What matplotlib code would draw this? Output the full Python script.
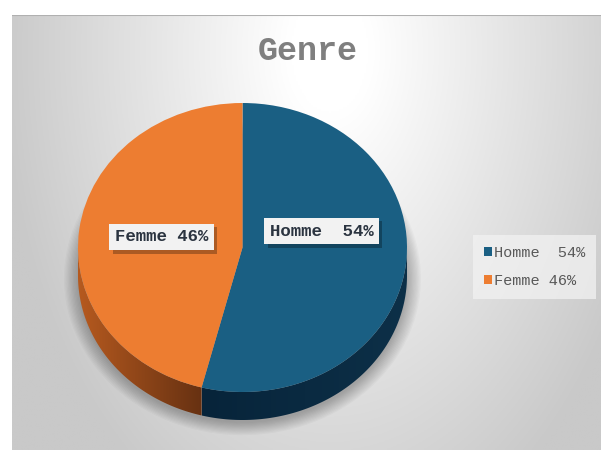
import numpy as np
import matplotlib
matplotlib.use("Agg")
import matplotlib.pyplot as plt
from matplotlib.patches import PathPatch, Ellipse
from matplotlib.path import Path
from matplotlib.colors import to_rgb
import matplotlib.patheffects as pe

# ---- data ----
categories = ["Homme ", "Femme"]
shares = [54, 46]
title = "Genre"

# ---- styles ----
top_colors = ["#1a5f83", "#ed7d31"]
side_grad = [("#07243a", "#0d3048"), ("#b65a1f", "#673112")]
FONT = "Liberation Mono"

W, H = 601, 450
fig = plt.figure(figsize=(W / 100, H / 100), dpi=100)
fig.patch.set_facecolor("white")


def px_rect(x0, y0, x1, y1):
    return [x0 / W, 1 - y1 / H, (x1 - x0) / W, (y1 - y0) / H]


def px_pt(x, y):
    return (x / W, 1 - y / H)


# ---- background radial gradient ----
bg = fig.add_axes(px_rect(12, 15, 601, 450))
bg.set_axis_off()
xs = np.linspace(12, 601, 300)
ys = np.linspace(15, 450, 220)
X, Y = np.meshgrid(xs, ys)
d = np.sqrt(((X - 330) / 330) ** 2 + ((Y - 50) / 520) ** 2)
t = np.clip((d - 0.12) / 0.88, 0, 1)
c0 = np.array([1, 1, 1.0])
c1 = np.array(to_rgb("#c9c9c9"))
img = c0 + (c1 - c0) * t[..., None]
bg.imshow(img, extent=(0, 1, 0, 1), aspect="auto", origin="upper")
bg.set_xlim(0, 1)
bg.set_ylim(0, 1)
bg.axhline(1, color="#b0b0b0", lw=1.5)

# ---- pie ----
cx, cy, a, b, depth = 242.5, 247.5, 164.5, 144.5, 28
R = 1.4
ax = fig.add_axes(px_rect(cx - R * a, cy - R * b, cx + R * a, cy + R * b))
wedges, _ = ax.pie(shares, colors=top_colors, startangle=90, counterclock=False,
                   wedgeprops=dict(linewidth=0))
for w in wedges:
    w.set_zorder(5)
ax.set_aspect("auto")
dd = depth / b

# soft drop shadow (below the disc only)
for e in np.linspace(0.0, 0.085, 12):
    ax.add_patch(Ellipse((0, -dd - 0.02), 2 * (1 + e), 2 * (1 + e),
                         facecolor="black", edgecolor="none", alpha=0.022, zorder=1))

# side faces
for w, (cl, cr) in zip(wedges, side_grad):
    t1, t2 = w.theta1, w.theta2
    for k in (-1, 0, 1):
        lo = max(t1, -180 + 360 * k)
        hi = min(t2, 0 + 360 * k)
        if hi <= lo:
            continue
        tt = np.radians(np.linspace(lo, hi, 200))
        top = np.column_stack([np.cos(tt), np.sin(tt)])
        bot = np.column_stack([np.cos(tt[::-1]), np.sin(tt[::-1]) - dd])
        verts = np.vstack([top, bot, top[:1]])
        patch = PathPatch(Path(verts, closed=True), facecolor="none", edgecolor="none")
        ax.add_patch(patch)
        xmin, xmax = verts[:, 0].min(), verts[:, 0].max()
        g = np.linspace(0, 1, 256)
        ca, cb = np.array(to_rgb(cl)), np.array(to_rgb(cr))
        grad = (ca + (cb - ca) * g[:, None])[None, :, :]
        im = ax.imshow(grad, extent=(xmin, xmax, -1 - dd - 0.01, 0.2), aspect="auto",
                       zorder=3, interpolation="bilinear")
        im.set_clip_path(patch)

ax.set_xlim(-R, R)
ax.set_ylim(-R, R)
ax.set_axis_off()

# ---- title ----
fig.text(*px_pt(308, 52), title, ha="center", va="center", fontsize=24,
         fontweight="bold", color="#7f7f7f", family=FONT)

# ---- data labels ----
labels = [f"{c} {v}%" for c, v in zip(categories, shares)]
label_pos = [(321.5, 231), (161.5, 237)]
for lab, (x, y) in zip(labels, label_pos):
    txt = fig.text(*px_pt(x, y), lab, ha="center", va="center", fontsize=12.5,
                   fontweight="bold", color="#2b3440", family=FONT,
                   bbox=dict(boxstyle="square,pad=0.32", fc="#f2f2f2", ec="none"))
    txt.get_bbox_patch().set_path_effects(
        [pe.SimplePatchShadow(offset=(2.5, -2.5), shadow_rgbFace="black", alpha=0.28),
         pe.Normal()])

# ---- legend ----
leg = fig.legend(wedges, labels, loc="upper left", bbox_to_anchor=px_pt(473, 235),
                 borderaxespad=0, frameon=True, fancybox=False, framealpha=0.75,
                 facecolor="#f2f2f2", edgecolor="none",
                 prop=dict(family=FONT, size=11), handlelength=0.55, handleheight=0.55,
                 handletextpad=0.15, labelspacing=0.95, borderpad=0.7)
for t_ in leg.get_texts():
    t_.set_color("#595959")

fig.savefig("out.png", dpi=100, facecolor="white")
